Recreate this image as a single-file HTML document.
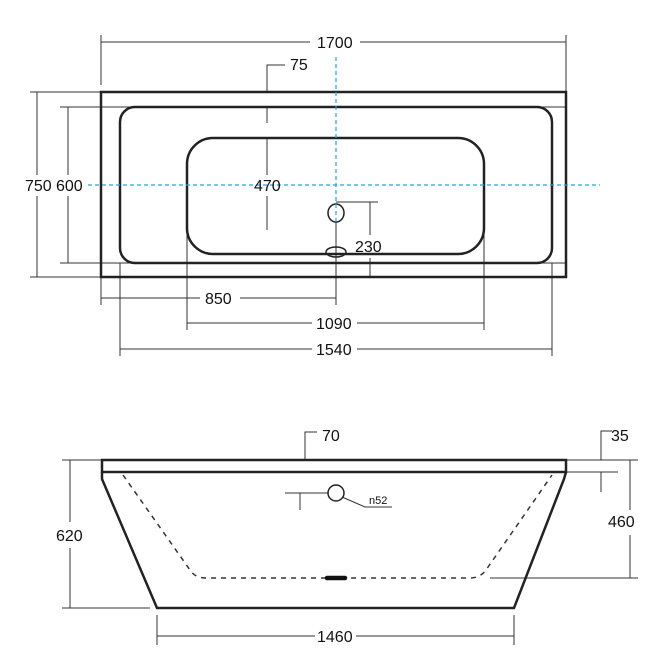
<!DOCTYPE html>
<html><head><meta charset="utf-8"><style>
html,body{margin:0;padding:0;background:#fff;}
svg{display:block;}
text{font-family:"Liberation Sans",sans-serif;font-size:16px;fill:#111;}
</style></head><body>
<svg width="654" height="663" viewBox="0 0 654 663" xmlns="http://www.w3.org/2000/svg">
<g stroke="#333" stroke-width="1" fill="none">
<line x1="101" y1="35" x2="101" y2="85"/><line x1="566" y1="35" x2="566" y2="98"/>
<line x1="101" y1="42" x2="310" y2="42"/><line x1="360" y1="42" x2="566" y2="42"/>
<polyline points="285,65 267,65 267,92"/>
<line x1="267" y1="107" x2="267" y2="123"/>
<line x1="267" y1="138" x2="267" y2="175"/><line x1="267" y1="196" x2="267" y2="230"/>
<line x1="30" y1="92" x2="101" y2="92"/><line x1="30" y1="277" x2="101" y2="277"/>
<line x1="37" y1="92" x2="37" y2="175"/><line x1="37" y1="196" x2="37" y2="277"/>
<line x1="60" y1="107" x2="566" y2="107"/><line x1="60" y1="263" x2="566" y2="263"/>
<line x1="68" y1="107" x2="68" y2="175"/><line x1="68" y1="196" x2="68" y2="263"/>
<line x1="336" y1="202" x2="378" y2="202"/>
<line x1="370" y1="202" x2="370" y2="235"/><line x1="370" y1="258" x2="370" y2="277"/>
<line x1="101" y1="277" x2="101" y2="305"/><line x1="336" y1="222" x2="336" y2="305"/>
<line x1="101" y1="298" x2="200" y2="298"/><line x1="240" y1="298" x2="336" y2="298"/>
<line x1="187" y1="230" x2="187" y2="330"/><line x1="484" y1="230" x2="484" y2="330"/>
<line x1="187" y1="323" x2="312" y2="323"/><line x1="357" y1="323" x2="484" y2="323"/>
<line x1="120" y1="263" x2="120" y2="356"/><line x1="552" y1="263" x2="552" y2="356"/>
<line x1="120" y1="349" x2="312" y2="349"/><line x1="357" y1="349" x2="552" y2="349"/>
</g>
<g stroke="#222" stroke-width="2.5" fill="none">
<rect x="101" y="92" width="465" height="185"/>
<rect x="120" y="107" width="432" height="156" rx="15"/>
<rect x="187" y="138" width="297" height="116" rx="26"/>
<ellipse cx="336" cy="213" rx="8" ry="9" stroke-width="1.5"/>
<ellipse cx="336" cy="252" rx="10" ry="5" stroke-width="1.5"/>
</g>
<g stroke="#1aa7e0" stroke-width="1.2" stroke-dasharray="4,3" fill="none">
<line x1="88" y1="185" x2="600" y2="185"/>
<line x1="336" y1="57" x2="336" y2="222"/>
</g>
<text x="317" y="48">1700</text>
<text x="290" y="70">75</text>
<text x="254" y="191">470</text>
<text x="25" y="191">750</text>
<text x="56" y="191">600</text>
<text x="355" y="252">230</text>
<text x="205" y="304">850</text>
<text x="316" y="329">1090</text>
<text x="316" y="355">1540</text>

<g stroke="#333" stroke-width="1" fill="none">
<polyline points="317,432 305,432 305,460"/>
<polyline points="612,431 601,431 601,460"/>
<line x1="601" y1="472" x2="601" y2="492"/>
<line x1="566" y1="460" x2="638" y2="460"/>
<line x1="566" y1="472" x2="618" y2="472"/>
<line x1="630" y1="460" x2="630" y2="510"/><line x1="630" y1="535" x2="630" y2="578"/>
<line x1="490" y1="578" x2="638" y2="578"/>
<line x1="62" y1="460" x2="101" y2="460"/><line x1="62" y1="608" x2="150" y2="608"/>
<line x1="70" y1="460" x2="70" y2="522"/><line x1="70" y1="548" x2="70" y2="608"/>
<line x1="157" y1="615" x2="157" y2="645"/><line x1="514" y1="615" x2="514" y2="645"/>
<line x1="157" y1="636" x2="315" y2="636"/><line x1="356" y1="636" x2="514" y2="636"/>
<line x1="285" y1="493" x2="328" y2="493"/>
<line x1="300" y1="493" x2="300" y2="510"/>
<polyline points="342,497 365,507 392,507"/>
</g>
<g stroke="#222" stroke-width="2.5" fill="none">
<rect x="102" y="460" width="464" height="12"/>
<polyline points="102,472 102,479 157,608 514,608 564,479 566,472"/>
<circle cx="336" cy="493" r="8" stroke-width="1.5"/>
</g>
<path d="M123,475 L190,570 Q195,578 206,578 L470,578 Q480,578 486,570 L552,475" stroke="#333" stroke-width="1.5" fill="none" stroke-dasharray="5,5"/>
<line x1="327" y1="578" x2="345" y2="578" stroke="#111" stroke-width="4.5" stroke-linecap="round"/>
<text x="322" y="441">70</text>
<text x="611" y="441">35</text>
<text x="608" y="527">460</text>
<text x="56" y="541">620</text>
<text x="317" y="642">1460</text>
<text x="369" y="504" style="font-size:11px">n52</text>
</svg>
</body></html>
